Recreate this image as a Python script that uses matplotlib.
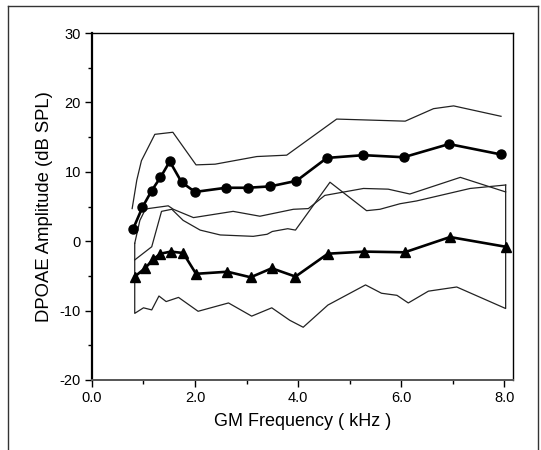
import numpy as np
import matplotlib
matplotlib.use('Agg')
import matplotlib.pyplot as plt
from matplotlib.lines import Line2D
from matplotlib.ticker import MultipleLocator, FormatStrFormatter

plt.rcParams['font.family'] = ['Liberation Sans', 'DejaVu Sans']
plt.rcParams['axes.unicode_minus'] = False

# mean curves (circles / triangles), kHz vs dB SPL
circ_x = [0.80, 0.98, 1.16, 1.33, 1.51, 1.74, 2.00, 2.60, 3.02, 3.46, 3.97, 4.56, 5.27, 6.05, 6.93, 7.94]
circ_y = [1.8, 4.9, 7.3, 9.2, 11.5, 8.5, 7.1, 7.7, 7.7, 7.9, 8.7, 12.0, 12.4, 12.1, 14.0, 12.5]

tri_x = [0.83, 1.03, 1.19, 1.33, 1.53, 1.77, 2.02, 2.63, 3.08, 3.49, 3.95, 4.58, 5.29, 6.07, 6.95, 8.03]
tri_y = [-5.1, -3.9, -2.6, -1.8, -1.5, -1.7, -4.7, -4.4, -5.2, -3.9, -5.1, -1.8, -1.5, -1.6, 0.6, -0.8]

# spread bands (thin lines)
circ_hi_x = [0.78, 0.87, 0.96, 1.22, 1.57, 2.02, 2.39, 3.20, 3.78, 4.75, 6.08, 6.63, 7.02, 7.94]
circ_hi_y = [4.7, 8.8, 11.6, 15.4, 15.7, 11.0, 11.1, 12.2, 12.4, 17.6, 17.3, 19.1, 19.5, 18.0]

circ_lo_x = [0.83, 0.93, 1.03, 1.09, 1.48, 1.58, 1.97, 2.74, 3.26, 3.91, 4.20, 4.52, 5.27, 5.75, 6.17, 7.15, 8.03]
circ_lo_y = [-0.3, 3.0, 4.5, 4.7, 5.1, 4.6, 3.4, 4.3, 3.6, 4.6, 4.7, 6.6, 7.6, 7.5, 6.8, 9.2, 7.1]

tri_hi_x = [0.83, 1.16, 1.35, 1.55, 1.77, 2.10, 2.49, 3.13, 3.40, 3.50, 3.80, 3.95, 4.62, 5.33, 5.59, 5.98, 6.30, 6.82, 7.34, 8.03]
tri_hi_y = [-2.7, -0.8, 4.3, 4.6, 3.0, 1.6, 0.9, 0.7, 1.0, 1.4, 1.8, 1.6, 8.5, 4.4, 4.6, 5.4, 5.8, 6.7, 7.6, 8.1]

tri_lo_x = [0.83, 0.83, 1.00, 1.16, 1.30, 1.44, 1.68, 2.06, 2.65, 3.10, 3.49, 3.84, 4.10, 4.58, 5.31, 5.62, 5.92, 6.14, 6.53, 7.08, 8.03, 8.03]
tri_lo_y = [-0.3, -10.4, -9.6, -9.9, -7.9, -8.7, -8.1, -10.1, -8.9, -10.8, -9.6, -11.4, -12.4, -9.2, -6.3, -7.5, -7.8, -8.9, -7.2, -6.6, -9.7, 8.1]

fig = plt.figure(figsize=(5.41, 4.5), dpi=100)
ax = fig.add_axes([0.170, 0.1556, 0.778, 0.771])

for bx, by in [(circ_hi_x, circ_hi_y), (circ_lo_x, circ_lo_y),
               (tri_hi_x, tri_hi_y), (tri_lo_x, tri_lo_y)]:
    ax.plot(bx, by, color='#222222', linewidth=0.9)

ax.plot(circ_x, circ_y, color='black', linewidth=1.9, marker='o', markersize=6.5)
ax.plot(tri_x, tri_y, color='black', linewidth=1.9, marker='^', markersize=7.5)

ax.set_xlim(0, 8.17)
ax.set_ylim(-20, 30)
ax.xaxis.set_major_locator(MultipleLocator(2))
ax.xaxis.set_minor_locator(MultipleLocator(1))
ax.yaxis.set_major_locator(MultipleLocator(10))
ax.yaxis.set_minor_locator(MultipleLocator(5))
ax.xaxis.set_major_formatter(FormatStrFormatter('%.1f'))
ax.tick_params(which='major', direction='out', length=5, width=1, labelsize=10.5, pad=3)
ax.tick_params(which='minor', direction='out', length=3, width=1)

for s in ax.spines.values():
    s.set_linewidth(1.0)
ax.spines['left'].set_linewidth(1.6)
ax.spines['bottom'].set_color('#555555')
ax.spines['bottom'].set_linewidth(1.4)

ax.set_xlabel('GM Frequency ( kHz )', fontsize=13, labelpad=6)
ax.set_ylabel('DPOAE Amplitude (dB SPL)', fontsize=13.3, labelpad=5)

# outer frame of the original scan
for xs, ys in [([8/541, 8/541], [0, 1 - 6/450]),
               ([8/541, 538/541], [1 - 6/450, 1 - 6/450]),
               ([538/541, 538/541], [0, 1 - 6/450])]:
    fig.add_artist(Line2D(xs, ys, color='#333333', linewidth=1.0))

fig.savefig('out.png', dpi=100)
